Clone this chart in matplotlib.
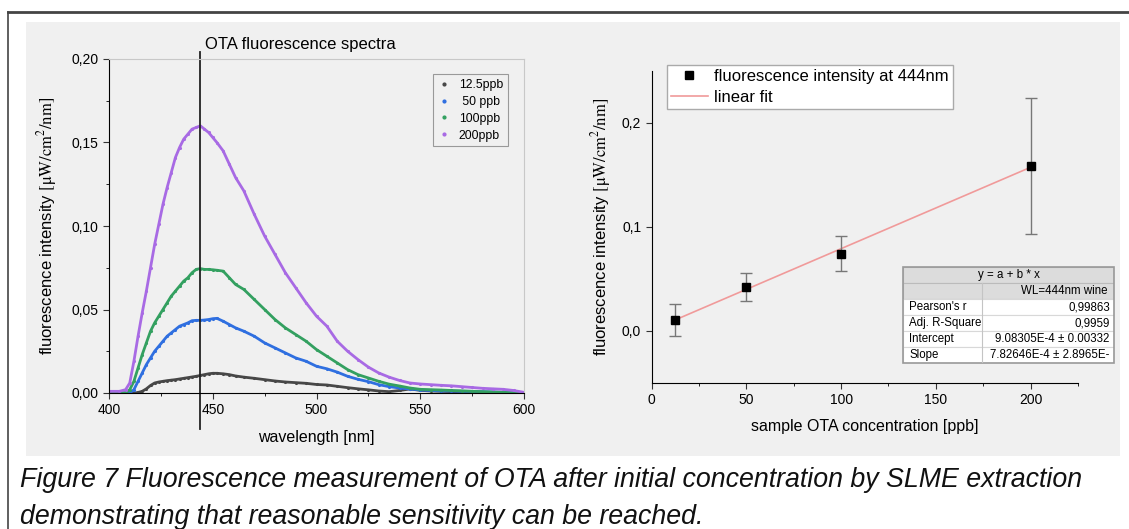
import matplotlib
matplotlib.use("Agg")
import matplotlib.pyplot as plt
from matplotlib.lines import Line2D
from matplotlib.patches import Rectangle
from matplotlib.ticker import MultipleLocator, FuncFormatter

plt.rcParams["font.family"] = ["Liberation Sans", "DejaVu Sans"]
plt.rcParams["mathtext.fontset"] = "stix"

# ---- left panel: spectra ----
wl = [400, 405, 408, 410, 412, 414, 416, 418, 420, 422, 424, 426, 428, 430, 432, 434,
      436, 438, 440, 442, 444, 446, 448, 450, 452, 455, 458, 461, 465, 470, 475, 480,
      485, 490, 495, 500, 505, 510, 515, 520, 525, 530, 535, 540, 545, 550, 555, 560,
      565, 570, 575, 580, 585, 590, 595, 600]
s200 = [0.001, 0.001, 0.002, 0.006, 0.019, 0.034, 0.048, 0.061, 0.075, 0.089, 0.101, 0.113,
        0.123, 0.132, 0.141, 0.147, 0.152, 0.155, 0.158, 0.159, 0.160, 0.158, 0.156, 0.153,
        0.150, 0.145, 0.137, 0.129, 0.121, 0.107, 0.094, 0.083, 0.072, 0.063, 0.054, 0.046,
        0.040, 0.031, 0.025, 0.020, 0.0155, 0.012, 0.0095, 0.0075, 0.006, 0.0054, 0.005,
        0.0046, 0.0043, 0.0038, 0.0033, 0.0028, 0.0025, 0.0022, 0.0015, 0.0004]
s100 = [0, 0, 0, 0.002, 0.007, 0.015, 0.023, 0.030, 0.037, 0.042, 0.046, 0.050, 0.054, 0.058,
        0.061, 0.064, 0.067, 0.069, 0.072, 0.074, 0.0745, 0.074, 0.074, 0.0738, 0.0735, 0.073,
        0.069, 0.065, 0.062, 0.056, 0.050, 0.044, 0.039, 0.035, 0.031, 0.026, 0.022, 0.018,
        0.014, 0.011, 0.009, 0.007, 0.0053, 0.0042, 0.003, 0.0022, 0.002, 0.0018, 0.0015,
        0.0013, 0.001, 0.0008, 0.0006, 0.0004, 0.0002, 0]
s50 = [0, 0, 0, 0, 0.002, 0.007, 0.012, 0.017, 0.021, 0.025, 0.028, 0.031, 0.034, 0.036,
       0.038, 0.040, 0.041, 0.042, 0.0433, 0.0435, 0.0435, 0.0437, 0.044, 0.0445, 0.0447,
       0.043, 0.041, 0.039, 0.037, 0.034, 0.030, 0.027, 0.024, 0.021, 0.019, 0.016, 0.0145,
       0.0125, 0.010, 0.0082, 0.0068, 0.005, 0.0038, 0.003, 0.0024, 0.0018, 0.0015, 0.0013,
       0.0012, 0.001, 0.001, 0.0008, 0.0006, 0.0004, 0.0002, 0]
s12 = [0, 0, 0, 0, 0, 0.0003, 0.001, 0.0025, 0.0045, 0.006, 0.0066, 0.007, 0.0074, 0.0077,
       0.008, 0.0084, 0.0088, 0.0092, 0.0096, 0.010, 0.0105, 0.011, 0.0115, 0.0118, 0.0118,
       0.0115, 0.011, 0.0102, 0.0095, 0.0088, 0.008, 0.0072, 0.0066, 0.0062, 0.0058, 0.0051,
       0.0048, 0.004, 0.0032, 0.0025, 0.0019, 0.0012, 0.0008, 0.0015, 0.0024, 0.0016, 0.0012,
       0.001, 0.0008, 0.0006, 0.0005, 0.0003, 0.0002, 0.0001, 0, 0]
spec_labels = ["12.5ppb", " 50 ppb", "100ppb", "200ppb"]
spec_colors = ["#474747", "#2f6fe0", "#33a060", "#a86ae4"]
peak_wl = 444

# ---- right panel: calibration ----
conc = [12.5, 50, 100, 200]
inten = [0.0105, 0.0424, 0.0744, 0.1586]
err = [0.0155, 0.0135, 0.0165, 0.065]
fit_a, fit_b = 9.08305e-4, 7.82646e-4
fit_x = [12.5, 200]
table_rows = [("Pearson's r", "0,99863"), ("Adj. R-Square", "0,9959"),
              ("Intercept", "9.08305E-4 \u00b1 0.00332"), ("Slope", "7.82646E-4 \u00b1 2.8965E-")]

BG = "#f0f0f0"

fig = plt.figure(figsize=(11.29, 5.29), dpi=100)
fig.patches.append(Rectangle((26 / 1129, 1 - 456 / 529), 1094 / 1129, 434 / 529,
                             transform=fig.transFigure, fc=BG, ec="none", zorder=-5))
fig.add_artist(Line2D([8 / 1129, 1], [1 - 12 / 529] * 2, color="#444444", lw=2))
fig.add_artist(Line2D([8 / 1129] * 2, [0, 1 - 12 / 529], color="#444444", lw=1.2))

ylab = r"fluorescence intensity $\mathrm{[μW/cm^2/nm]}$"

# left axes
ax = fig.add_axes([109 / 1129, 1 - 393 / 529, 415 / 1129, 334 / 529])
ax.set_facecolor(BG)
for ys, lab, c in zip([s12, s50, s100, s200], spec_labels, spec_colors):
    ax.plot(wl, ys, "-", color=c, lw=2.0, marker=".", ms=2.5)
ax.set_xlim(400, 600)
ax.set_ylim(0, 0.20)
ax.xaxis.set_major_locator(MultipleLocator(50))
ax.xaxis.set_minor_locator(MultipleLocator(25))
ax.yaxis.set_major_locator(MultipleLocator(0.05))
ax.yaxis.set_minor_locator(MultipleLocator(0.025))
ax.yaxis.set_major_formatter(FuncFormatter(lambda v, p: f"{v:.2f}".replace(".", ",")))
ax.tick_params(labelsize=10, length=4, color="#333333")
ax.tick_params(which="minor", length=2.5)
for s in ("top", "right"):
    ax.spines[s].set_color("#c8c8c8")
ax.axvline(peak_wl, ymin=-0.108, ymax=1.021, color="#222222", lw=1.3, clip_on=False)
ax.set_title("OTA fluorescence spectra", fontsize=12, pad=7, x=0.46)
ax.set_xlabel("wavelength [nm]", fontsize=11.5, labelpad=9)
ax.set_ylabel(ylab, fontsize=12, labelpad=9)
handles = [Line2D([], [], ls="none", marker=".", ms=4, color=c) for c in spec_colors]
leg = ax.legend(handles, spec_labels, loc="upper left", bbox_to_anchor=(433 / 1129, 1 - 74 / 529),
                bbox_transform=fig.transFigure, fontsize=8.8, fancybox=False, framealpha=1,
                facecolor=BG, edgecolor="#999999", handlelength=1.0, labelspacing=0.4,
                borderpad=0.4, borderaxespad=0, handletextpad=0.7)
leg.get_frame().set_linewidth(0.8)

# right axes
bx = fig.add_axes([651.6 / 1129, 1 - 383 / 529, 426.4 / 1129, 312 / 529])
bx.set_facecolor(BG)
bx.plot(fit_x, [fit_a + fit_b * x for x in fit_x], color="#f09a9a", lw=1.2, zorder=2)
bx.errorbar(conc, inten, yerr=err, fmt="s", color="black", ms=6, ecolor="#777777",
            elinewidth=1, capsize=4, capthick=1, zorder=3)
bx.set_xlim(0, 225)
bx.set_ylim(-0.05, 0.25)
bx.xaxis.set_major_locator(MultipleLocator(50))
bx.xaxis.set_minor_locator(MultipleLocator(25))
bx.yaxis.set_major_locator(MultipleLocator(0.1))
bx.xaxis.set_major_formatter(FuncFormatter(lambda v, p: "" if v > 200 else f"{v:.0f}"))
bx.yaxis.set_major_formatter(FuncFormatter(lambda v, p: f"{v:.1f}".replace(".", ",")))
bx.tick_params(labelsize=10, length=4, color="#333333")
bx.tick_params(which="minor", length=2.5)
bx.spines["top"].set_visible(False)
bx.spines["right"].set_visible(False)
bx.set_xlabel("sample OTA concentration [ppb]", fontsize=11.5, labelpad=8)
bx.set_ylabel(ylab, fontsize=12, labelpad=6)
h2 = [Line2D([], [], ls="none", marker="s", ms=6, color="black"),
      Line2D([], [], color="#f09a9a", lw=1.2)]
leg2 = bx.legend(h2, ["fluorescence intensity at 444nm", "linear fit"], loc="upper left",
                 bbox_to_anchor=(667 / 1129, 1 - 65 / 529), bbox_transform=fig.transFigure,
                 fontsize=12, fancybox=False, framealpha=1, edgecolor="#aaaaaa",
                 handlelength=2.2, handletextpad=0.4, labelspacing=0.35, borderpad=0.25,
                 borderaxespad=0)
leg2.get_frame().set_linewidth(1)

# fit results table
tx = fig.add_axes([903 / 1129, 1 - 363 / 529, 211 / 1129, 96 / 529])
tx.set_xlim(0, 1)
tx.set_ylim(0, 6)
tx.axis("off")
split = 0.374
tx.add_patch(Rectangle((0, 5), 1, 1, fc="#dcdcdc", ec="#bbbbbb", lw=0.8))
tx.add_patch(Rectangle((0, 4), 1, 1, fc="#dcdcdc", ec="#bbbbbb", lw=0.8))
tx.text(0.5, 5.5, "y = a + b * x", ha="center", va="center", fontsize=8.3)
tx.text(0.97, 4.5, "WL=444nm wine", ha="right", va="center", fontsize=8.3)
for i, (name, val) in enumerate(table_rows):
    y0 = 3 - i
    tx.add_patch(Rectangle((0, y0), 1, 1, fc="white", ec="#d8d8d8", lw=0.8))
    tx.text(0.03, y0 + 0.5, name, ha="left", va="center", fontsize=8.3)
    tx.text(0.98, y0 + 0.5, val, ha="right", va="center", fontsize=8.3)
tx.plot([split, split], [0, 5], color="#c4c4c4", lw=0.8)
tx.add_patch(Rectangle((0, 0), 1, 6, fc="none", ec="#999999", lw=1.2, clip_on=False))

# caption
cap = ("Figure 7 Fluorescence measurement of OTA after initial concentration by SLME extraction\n"
       "demonstrating that reasonable sensitivity can be reached.")
fig.text(20 / 1129, 1 - 467 / 529, cap, ha="left", va="top", fontsize=19.3, style="italic",
         linespacing=1.55, color="#111111")

fig.savefig("out.png", dpi=100)
